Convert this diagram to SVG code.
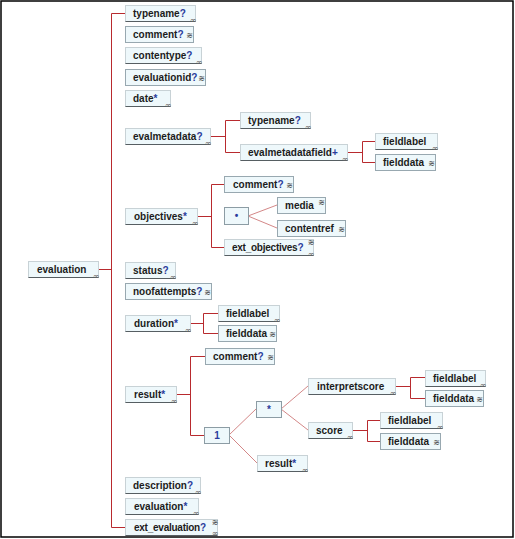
<svg xmlns="http://www.w3.org/2000/svg" width="515" height="539" viewBox="0 0 515 539">
<style>
text{font-family:"Liberation Sans",Arial,sans-serif;font-size:10px;font-weight:bold;fill:#1c1c1c}
.q{fill:#2a3c9c}
.tight{letter-spacing:-0.25px}
.inf{font-family:"DejaVu Sans",sans-serif;font-size:8px;font-weight:normal;fill:#666;text-anchor:end}
.ic{font-family:"DejaVu Sans",sans-serif;font-size:8px;font-weight:normal;fill:#333;text-anchor:end}
.A rect{fill:#eef8fb;stroke:#c8d2d6}
.A path{fill:none;stroke:#565e62}
.B rect{fill:#eef8fb;stroke:#98a8b0}
.C rect{fill:#eef8fb;stroke:#8c9ca4}
.C text{fill:#2a3c9c;text-anchor:middle}
#links path{fill:none;stroke:#b82a2e;stroke-width:1}
#links path.d{stroke:#c86868;stroke-width:0.8}
</style>
<rect x="1" y="1" width="512" height="536" fill="#fff" stroke="#000" stroke-width="1.5"/>
<g id="links">
<path d="M98,269.5H111.5M111.5,13.5V527.5M111.5,13.5H125M111.5,527.5H125"/>
<path d="M210,136.5H225.5M225.5,120.5V152.5M225.5,120.5H240M225.5,152.5H240"/>
<path d="M347,152.5H362.5M362.5,141.5V162.5M362.5,141.5H375M362.5,162.5H375"/>
<path d="M197,216.5H211.5M211.5,184.5V247.5M211.5,184.5H224M211.5,247.5H224"/>
<path class="d" d="M248,216L277,205M248,216L277,228"/>
<path d="M190,323.5H203.5M203.5,313.5V333.5M203.5,313.5H218M203.5,333.5H218"/>
<path d="M176,394.5H190.5M190.5,356.5V435.5M190.5,356.5H205M190.5,435.5H204"/>
<path class="d" d="M229,435L256,409M229,435L257,463"/>
<path class="d" d="M281,409L308,386M281,409L308,430"/>
<path d="M395,386.5H410.5M410.5,377.5V398.5M410.5,377.5H425M410.5,398.5H425"/>
<path d="M352,430.5H367.5M367.5,420.5V441.5M367.5,420.5H380M367.5,441.5H380"/>
</g>
<g id="n-evaluation" class="A"><rect x="28.5" y="261.5" width="70" height="16"/><path d="M28.5,277.5H98.5"/><text x="37" y="273">evaluation</text><text class="inf" x="99.5" y="278.5">∞</text></g>
<g id="n-typename" class="A"><rect x="125.5" y="5.5" width="70" height="16"/><path d="M125.5,21.5H195.5"/><text x="133" y="17">typename<tspan class="q">?</tspan></text><text class="inf" x="196.5" y="22.5">∞</text></g>
<g id="n-comment" class="B"><rect x="125.5" y="26.5" width="68" height="16"/><text x="133" y="38">comment<tspan class="q">?</tspan></text><text class="ic" x="193" y="38">≋</text></g>
<g id="n-contentype" class="A"><rect x="125.5" y="47.5" width="76" height="16"/><path d="M125.5,63.5H201.5"/><text x="133" y="59">contentype<tspan class="q">?</tspan></text><text class="inf" x="202.5" y="64.5">∞</text></g>
<g id="n-evaluationid" class="B"><rect x="125.5" y="69.5" width="80" height="16"/><text x="133" y="81">evaluationid<tspan class="q">?</tspan></text><text class="ic" x="205" y="81">≋</text></g>
<g id="n-date" class="A"><rect x="125.5" y="90.5" width="45" height="16"/><path d="M125.5,106.5H170.5"/><text x="133" y="102">date<tspan class="q">*</tspan></text><text class="inf" x="171.5" y="107.5">∞</text></g>
<g id="n-evalmetadata" class="A"><rect x="125.5" y="128.5" width="85" height="16"/><path d="M125.5,144.5H210.5"/><text x="133" y="140">evalmetadata<tspan class="q">?</tspan></text><text class="inf" x="211.5" y="145.5">∞</text></g>
<g id="n-em-typename" class="A"><rect x="240.5" y="112.5" width="70" height="16"/><path d="M240.5,128.5H310.5"/><text x="248" y="124">typename<tspan class="q">?</tspan></text><text class="inf" x="311.5" y="129.5">∞</text></g>
<g id="n-evalmetadatafield" class="A"><rect x="240.5" y="144.5" width="107" height="16"/><path d="M240.5,160.5H347.5"/><text x="248" y="156">evalmetadatafield<tspan class="q">+</tspan></text><text class="inf" x="348.5" y="161.5">∞</text></g>
<g id="n-emf-fieldlabel" class="A"><rect x="375.5" y="133.5" width="62" height="16"/><path d="M375.5,149.5H437.5"/><text x="383" y="145">fieldlabel</text><text class="inf" x="438.5" y="150.5">∞</text></g>
<g id="n-emf-fielddata" class="B"><rect x="375.5" y="154.5" width="60" height="16"/><text x="383" y="166">fielddata</text><text class="ic" x="435" y="166">≋</text></g>
<g id="n-objectives" class="A"><rect x="125.5" y="208.5" width="72" height="16"/><path d="M125.5,224.5H197.5"/><text x="134" y="220">objectives<tspan class="q">*</tspan></text><text class="inf" x="198.5" y="225.5">∞</text></g>
<g id="n-obj-comment" class="B"><rect x="224.5" y="176.5" width="69" height="16"/><text x="233" y="188">comment<tspan class="q">?</tspan></text><text class="ic" x="293" y="188">≋</text></g>
<g id="n-obj-choice" class="C"><rect x="224.5" y="207.5" width="24" height="17"/><text x="236.5" y="219">•</text></g>
<g id="n-media" class="B"><rect x="277.5" y="197.5" width="48" height="16"/><text x="285" y="209">media</text><text class="ic" x="325" y="205">≋</text></g>
<g id="n-contentref" class="B"><rect x="277.5" y="220.5" width="68" height="16"/><text x="285" y="232">contentref</text><text class="ic" x="345" y="232">≋</text></g>
<g id="n-ext_objectives" class="A"><rect x="224.5" y="239.5" width="89" height="16"/><path d="M224.5,255.5H313.5"/><text class="tight" x="232" y="251">ext_objectives<tspan class="q">?</tspan></text><text class="ic" x="314.5" y="245">≋</text><text class="inf" x="314.5" y="256.5">∞</text></g>
<g id="n-status" class="A"><rect x="125.5" y="262.5" width="50" height="16"/><path d="M125.5,278.5H175.5"/><text x="133" y="274">status<tspan class="q">?</tspan></text><text class="inf" x="176.5" y="279.5">∞</text></g>
<g id="n-noofattempts" class="B"><rect x="125.5" y="283.5" width="86" height="16"/><text x="133" y="295">noofattempts<tspan class="q">?</tspan></text><text class="ic" x="211" y="295">≋</text></g>
<g id="n-duration" class="A"><rect x="125.5" y="315.5" width="65" height="16"/><path d="M125.5,331.5H190.5"/><text x="134" y="327">duration<tspan class="q">*</tspan></text><text class="inf" x="191.5" y="332.5">∞</text></g>
<g id="n-dur-fieldlabel" class="A"><rect x="218.5" y="305.5" width="61" height="16"/><path d="M218.5,321.5H279.5"/><text x="226" y="317">fieldlabel</text><text class="inf" x="280.5" y="322.5">∞</text></g>
<g id="n-dur-fielddata" class="B"><rect x="218.5" y="325.5" width="58" height="16"/><text x="226" y="337">fielddata</text><text class="ic" x="276" y="337">≋</text></g>
<g id="n-result" class="A"><rect x="125.5" y="386.5" width="51" height="16"/><path d="M125.5,402.5H176.5"/><text x="134" y="398">result<tspan class="q">*</tspan></text><text class="inf" x="177.5" y="403.5">∞</text></g>
<g id="n-res-comment" class="B"><rect x="205.5" y="348.5" width="69" height="16"/><text x="213" y="360">comment<tspan class="q">?</tspan></text><text class="ic" x="274" y="360">≋</text></g>
<g id="n-seq1" class="C"><rect x="204.5" y="427.5" width="25" height="16"/><text x="217" y="439">1</text></g>
<g id="n-star" class="C"><rect x="256.5" y="401.5" width="25" height="16"/><text x="269" y="413">*</text></g>
<g id="n-interpretscore" class="A"><rect x="308.5" y="378.5" width="87" height="16"/><path d="M308.5,394.5H395.5"/><text x="317" y="390">interpretscore</text><text class="inf" x="396.5" y="395.5">∞</text></g>
<g id="n-is-fieldlabel" class="A"><rect x="425.5" y="370.5" width="60" height="16"/><path d="M425.5,386.5H485.5"/><text x="433" y="382">fieldlabel</text><text class="inf" x="486.5" y="387.5">∞</text></g>
<g id="n-is-fielddata" class="B"><rect x="425.5" y="390.5" width="58" height="16"/><text x="433" y="402">fielddata</text><text class="ic" x="483" y="402">≋</text></g>
<g id="n-score" class="A"><rect x="308.5" y="422.5" width="44" height="16"/><path d="M308.5,438.5H352.5"/><text x="316" y="434">score</text><text class="inf" x="353.5" y="439.5">∞</text></g>
<g id="n-sc-fieldlabel" class="A"><rect x="380.5" y="412.5" width="62" height="16"/><path d="M380.5,428.5H442.5"/><text x="388" y="424">fieldlabel</text><text class="inf" x="443.5" y="429.5">∞</text></g>
<g id="n-sc-fielddata" class="B"><rect x="380.5" y="433.5" width="60" height="16"/><text x="388" y="445">fielddata</text><text class="ic" x="440" y="445">≋</text></g>
<g id="n-res-result" class="A"><rect x="257.5" y="455.5" width="50" height="16"/><path d="M257.5,471.5H307.5"/><text x="265" y="467">result<tspan class="q">*</tspan></text><text class="inf" x="308.5" y="472.5">∞</text></g>
<g id="n-description" class="A"><rect x="125.5" y="477.5" width="75" height="16"/><path d="M125.5,493.5H200.5"/><text x="133" y="489">description<tspan class="q">?</tspan></text><text class="inf" x="201.5" y="494.5">∞</text></g>
<g id="n-evaluation2" class="A"><rect x="125.5" y="498.5" width="73" height="16"/><path d="M125.5,514.5H198.5"/><text x="134" y="510">evaluation<tspan class="q">*</tspan></text><text class="inf" x="199.5" y="515.5">∞</text></g>
<g id="n-ext_evaluation" class="A"><rect x="125.5" y="519.5" width="92" height="16"/><path d="M125.5,535.5H217.5"/><text class="tight" x="134" y="531">ext_evaluation<tspan class="q">?</tspan></text><text class="ic" x="218.5" y="525">≋</text><text class="inf" x="218.5" y="536">∞</text></g>
</svg>
